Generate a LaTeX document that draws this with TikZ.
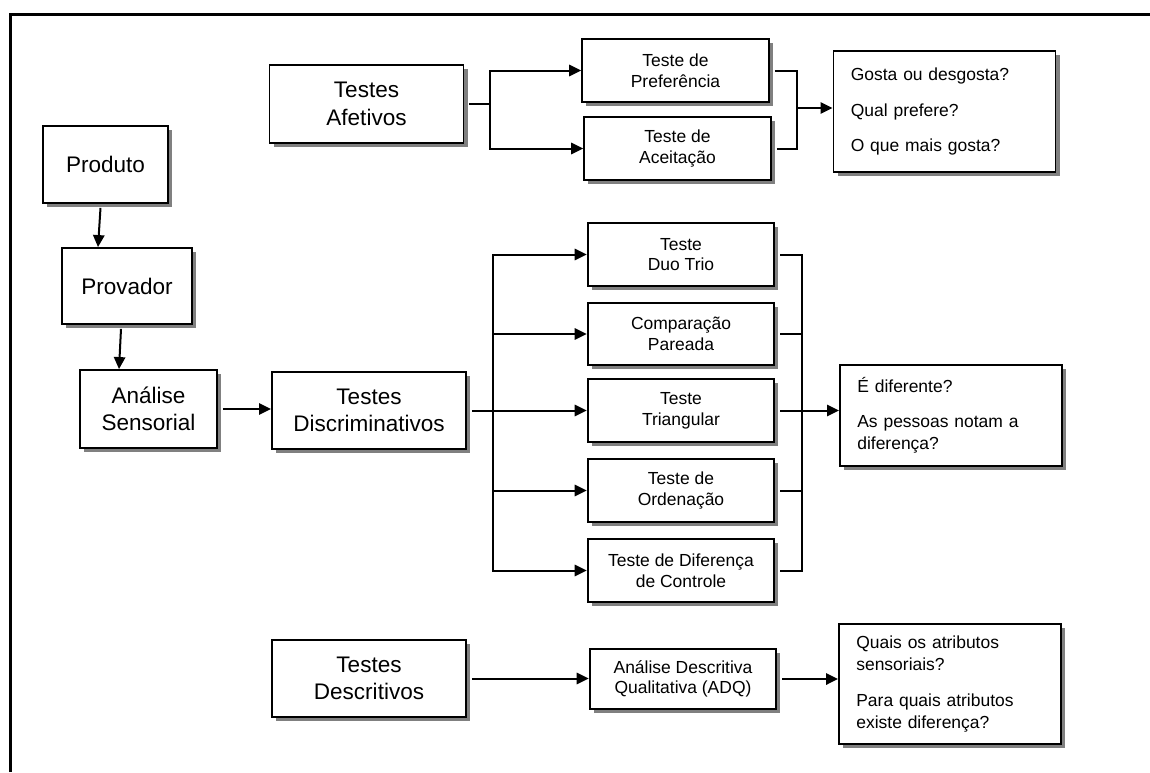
\documentclass[tikz,border=0pt]{standalone}
\usepackage{fontspec}
\setmainfont{Liberation Sans}
\usetikzlibrary{arrows.meta,shadows,calc}

\begin{document}
\begin{tikzpicture}[x=0.75pt,y=-0.75pt,
	box/.style={draw,line width=1.4pt,fill=white,align=center,inner sep=0pt,
		drop shadow={shadow xshift=3pt,shadow yshift=-3pt,fill=black!50,opacity=1}},
	bigbox/.style={box,font=\mybigfont,minimum width=145.5pt,minimum height=58pt},
	testbox/.style={box,font=\mysmallfont,minimum width=140pt,minimum height=47pt},
	ansbox/.style={box,font=\myansfont,align=left,inner xsep=13pt,text width=140.5pt},
	line/.style={line width=1.5pt},
	arr/.style={line,-{Triangle[length=9pt,width=8.5pt]}}]
			\newcommand{\mybigfont}{\fontsize{16.9}{20.5}\selectfont}
			\newcommand{\mysmallfont}{\fontsize{13.1}{15.5}\selectfont}
			\newcommand{\myansfont}{\fontsize{13.1}{16.5}\selectfont}
			\fill[white] (0,0) rectangle (1150,772);
			\useasboundingbox (0,0) rectangle (1150,772);
			%Outer frame
			\draw[line width=2.25pt] (10,772) -- (10,14) -- (1150,14);
			%Left column
			\node[box,font=\mybigfont,minimum width=93.75pt,minimum height=57.75pt] (prod) at (105.5,164.5) {Produto};
			\node[box,font=\mybigfont,minimum width=97.5pt,minimum height=57pt] (prov) at (127,286) {Provador};
			\node[box,font=\mybigfont,minimum width=102.75pt,minimum height=58.5pt] (anal) at (148.5,409) {Análise\\Sensorial};
			\draw[arr] ($(prod.south)+(-5,4)$) -- ($(prov.north)+(-29,0)$);
			\draw[arr] ($(prov.south)+(-6,4)$) -- ($(anal.north)+(-29.5,0)$);
			%Test groups
			\node[bigbox] (afet) at (366.5,104) {Testes\\Afetivos};
			\node[bigbox] (disc) at (369,410.5) {Testes\\Discriminativos};
			\node[bigbox] (desc) at (369,678.5) {Testes\\Descritivos};
			\draw[arr] ($(anal.east)+(5,0)$) -- (anal.east -| disc.west);
			%Affective tests
			\node[testbox] (pref) at (675.5,70.5) {Teste de\\Preferência};
			\node[testbox] (acei) at (677.5,148.5) {Teste de\\Aceitação};
			\coordinate (fA) at (490,104);
			\coordinate (jA) at (797,108);
			\draw[line] ($(afet.east)+(5,0)$) -- (fA);
			\draw[arr] (fA) |- (pref.west);
			\draw[arr] (fA) |- (acei.west);
			\draw[line] ($(pref.east)+(5,0)$) -| (jA);
			\draw[line] ($(acei.east)+(5,0)$) -| (jA);
			%Discriminative tests
			\foreach \nm/\yy/\txt in {duo/254.5/{Teste\\Duo Trio},
				comp/334/{Comparação\\Pareada},
				tri/410.5/{Teste\\Triangular},
				ord/490.5/{Teste de\\Ordenação},
				ctrl/570.5/{Teste de Diferença\\de Controle}} {
				\node[testbox] (\nm) at (681,\yy) {\txt};
			}
			\coordinate (fD) at (493,410.5);
			\coordinate (jD) at (802,410.5);
			\draw[line] ($(disc.east)+(5,0)$) -- (fD);
			\foreach \nm in {duo,comp,tri,ord,ctrl} {
				\draw[arr] (fD) |- (\nm.west);
				\draw[line] ($(\nm.east)+(5,0)$) -| (jD);
			}
			%Descriptive tests
			\node[testbox,minimum height=45pt] (adq) at (683,679) {Análise Descritiva\\Qualitativa (ADQ)};
			\draw[arr] ($(desc.east)+(5,0)$) -- (desc.east -| adq.west);
			%Questions
			\node[ansbox,minimum height=90.75pt] (ans1) at (944.5,111.5) {Gosta ou desgosta?\\[10pt]Qual prefere?\\[10pt]O que mais gosta?};
			\node[ansbox,minimum height=75.75pt] (ans2) at (951,415.5) {É diferente?\\[10pt]As pessoas notam a\\diferença?};
			\node[ansbox,minimum height=90pt] (ans3) at (950,684) {Quais os atributos\\sensoriais?\\[10pt]Para quais atributos\\existe diferença?};
			\draw[arr] (jA) -- (jA -| ans1.west);
			\draw[arr] (jD) -- (jD -| ans2.west);
			\draw[arr] ($(adq.east)+(5,0)$) -- (adq.east -| ans3.west);
\end{tikzpicture}
\end{document}
